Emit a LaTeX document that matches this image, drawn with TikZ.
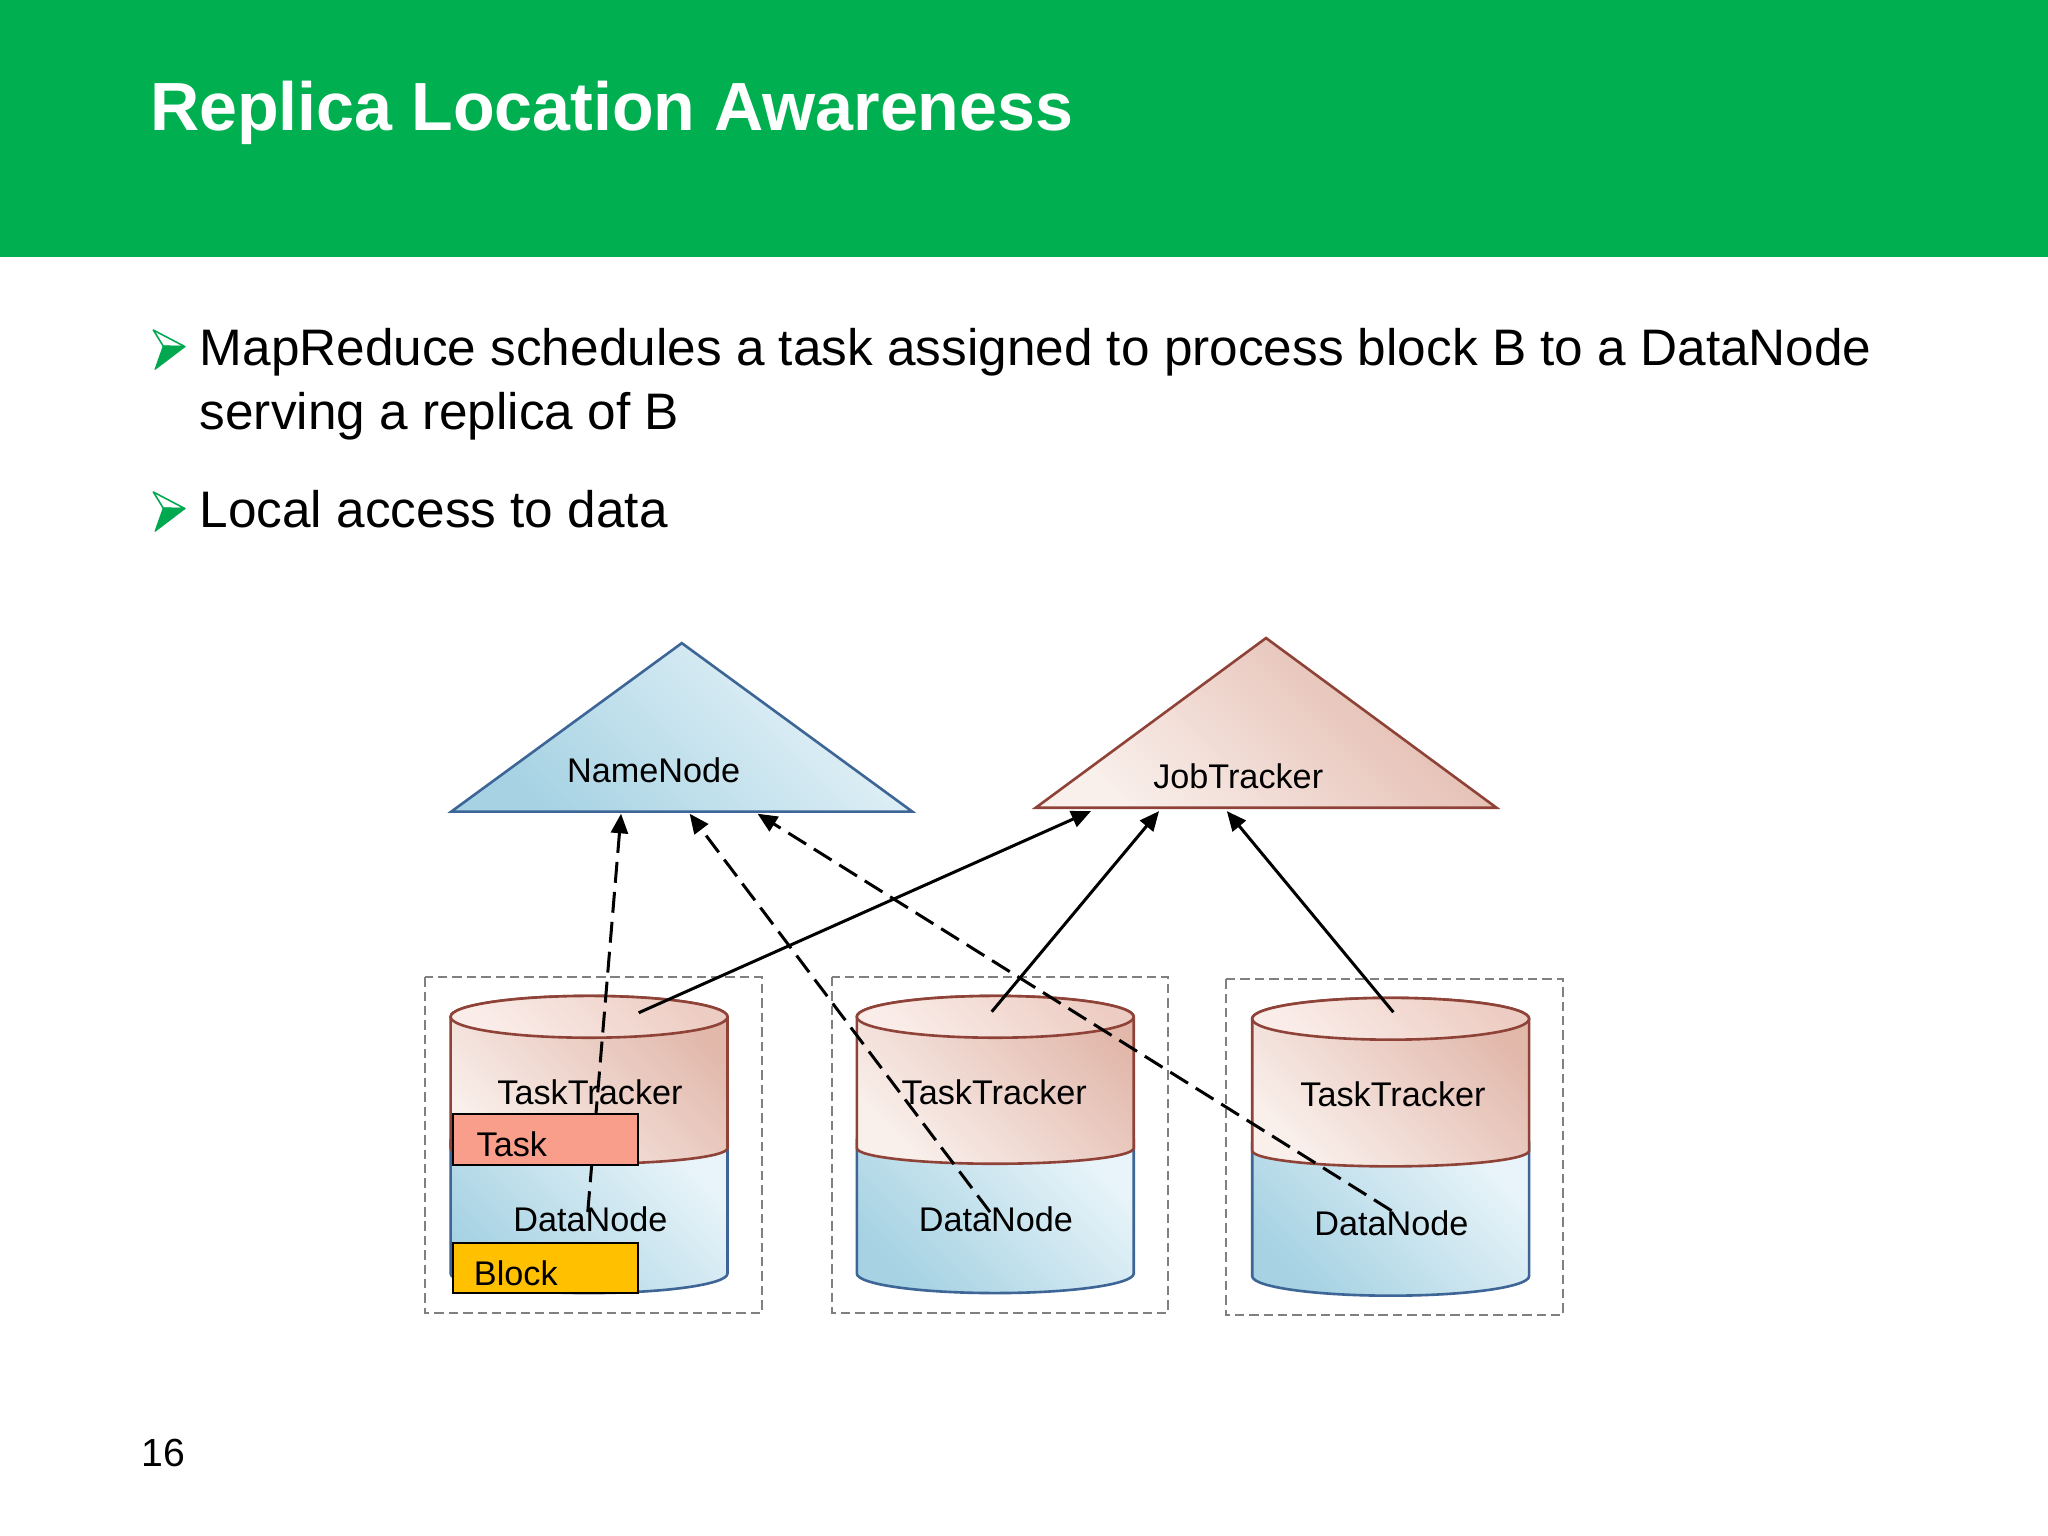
\documentclass[tikz,border=0pt]{standalone}
\usepackage{fontspec}
\setmainfont{Liberation Sans}
\usetikzlibrary{arrows.meta}
\definecolor{hdrgreen}{HTML}{00B050}
\definecolor{bulgreen}{HTML}{00A84F}
\definecolor{nnfillA}{HTML}{A6D2E3}
\definecolor{nnfillB}{HTML}{E8F4F9}
\definecolor{nnline}{HTML}{3D6596}
\definecolor{jtfillA}{HTML}{F9EFEB}
\definecolor{jtfillB}{HTML}{E2B8AB}
\definecolor{jtline}{HTML}{8F4338}
\definecolor{toplight}{HTML}{FAEDE9}
\definecolor{topdark}{HTML}{EDCDC3}
\definecolor{tasko}{HTML}{FA9E8C}
\definecolor{blocky}{HTML}{FFC000}
\definecolor{boxgray}{HTML}{808080}
\tikzset{
  conn/.style={line width=1.15pt, -{Triangle[length=7.5pt,width=6.5pt]}},
  dconn/.style={conn, dash pattern=on 8pt off 3.5pt},
  hostbox/.style={draw=boxgray, line width=0.7pt, dash pattern=on 3.6pt off 1.9pt},
  lbl/.style={inner sep=0, anchor=base, font=\fontsize{13.1pt}{15pt}\selectfont},
  lblw/.style={inner sep=0, anchor=base west, font=\fontsize{13.1pt}{15pt}\selectfont},
  bodytext/.style={inner sep=0, anchor=base west, font=\fontsize{19.65pt}{24pt}\selectfont},
  bluefill/.style={bottom color=nnfillA, top color=nnfillB, shading angle=-45},
  pinkfill/.style={bottom color=jtfillA, top color=jtfillB, shading angle=-45},
  topfill/.style={bottom color=toplight, top color=topdark, shading angle=-45},
  smallrect/.style={draw=black, line width=0.75pt},
}
\newcommand{\drawcyl}[4]{%
  % #1 centre x, #2 top y, #3 boundary y, #4 bottom y
  \path[draw=nnline, line width=1pt, bluefill]
    ({#1-106},{#3-6}) -- ({#1-106},#4)
    arc[start angle=180, end angle=360, x radius=53pt, y radius=7.5pt]
    -- ({#1+106},{#3-6}) -- cycle;
  \path[draw=jtline, line width=1pt, pinkfill]
    ({#1-106},#2) -- ({#1-106},#3)
    arc[start angle=180, end angle=360, x radius=53pt, y radius=6pt]
    -- ({#1+106},#2)
    arc[start angle=0, end angle=180, x radius=53pt, y radius=8pt] -- cycle;
  \path[draw=jtline, line width=1pt, topfill]
    (#1,#2) ellipse [x radius=53pt, y radius=8pt];
}
\newcommand{\bularrow}[1]{%
  \begin{scope}[yshift=#1]
    \path[draw=bulgreen, line width=0.6pt, fill=white, line join=round]
      (117.4,252.7) -- (141.6,265.4) -- (125,265) -- cycle;
    \path[fill=bulgreen, draw=bulgreen, line width=0.4pt, line join=round]
      (125,265) -- (141.6,265.4) -- (118.7,282.8) -- cycle;
  \end{scope}
}
\begin{document}
\begin{tikzpicture}[x=0.5pt, y=-0.5pt]
\useasboundingbox (0,0) rectangle (1568,1176);
\fill[white] (0,0) rectangle (1568,1176);
% header
\fill[hdrgreen] (0,0) rectangle (1568,197);
\node[inner sep=0, anchor=base west, text=white,
      font=\fontsize{26.1pt}{30pt}\selectfont\bfseries] (title) at (114.5,100)
      {Replica Location Awareness};
% bullets
\bularrow{0}
\bularrow{-62pt}
\node[bodytext] (b1a) at (152.5,280.2) {MapReduce schedules a task assigned to process block B to a DataNode};
\node[bodytext] (b1b) at (152.5,328.8) {serving a replica of B};
\node[bodytext] (b2) at (152.5,403.8) {Local access to data};
% page number
\node[inner sep=0, anchor=base west, font=\fontsize{15pt}{18pt}\selectfont] (pagenum) at (108,1122.4) {16};

% host boxes
\draw[hostbox] (325.4,748.2) rectangle (583.2,1005);
\draw[hostbox] (636.8,748) rectangle (894.4,1005);
\draw[hostbox] (938.7,749.7) rectangle (1196.5,1007);

% NameNode and JobTracker triangles
\path[draw=nnline, line width=1pt, bluefill, line join=miter]
  (345.5,621.4) -- (522,492.4) -- (698.5,621.4) -- cycle;
\node[lbl] (namenode) at (500.5,599) {NameNode};
\path[draw=jtline, line width=1pt, pinkfill, line join=miter]
  (793,618.4) -- (969.3,488.5) -- (1145.7,618.4) -- cycle;
\node[lbl] (jobtracker) at (948,603.6) {JobTracker};

% cylinders
\drawcyl{451}{778.5}{879}{975}
\drawcyl{762}{778.5}{879}{975}
\drawcyl{1064.7}{780}{881}{977}

\node[lbl] (tt1) at (451.7,845.3) {TaskTracker};
\node[lbl] (dn1) at (452,943) {DataNode};
\node[lbl] (tt2) at (761.2,845.3) {TaskTracker};
\node[lbl] (dn2) at (762.5,943) {DataNode};
\node[lbl] (tt3) at (1066.5,847.3) {TaskTracker};
\node[lbl] (dn3) at (1065.3,945.6) {DataNode};

% connector end points
\coordinate (nnA) at (475.5,623);
\coordinate (nnB) at (528,623);
\coordinate (nnC) at (580,623);
\coordinate (jtA) at (835.3,621);
\coordinate (jtB) at (887.4,621);
\coordinate (jtC) at (939.3,621);
\coordinate (dnOut1) at (450,928);
\coordinate (dnOut2) at (758,928);
\coordinate (dnOut3) at (1065.5,927);
\coordinate (ttOut1) at (489,775.4);
\coordinate (ttOut2) at (759.3,774.6);
\coordinate (ttOut3) at (1066.8,775);

% heartbeats to JobTracker
\draw[conn] (ttOut1) -- (jtA);
\draw[conn] (ttOut2) -- (jtB);
\draw[conn] (ttOut3) -- (jtC);
% block reports to NameNode
\draw[dconn] (dnOut1) -- (nnA);
\draw[dconn] (dnOut2) -- (nnB);
\draw[dconn] (dnOut3) -- (nnC);

% task and block
\path[smallrect, fill=tasko] (347,853) rectangle (488.5,892);
\node[lblw] (task) at (364.5,885.6) {Task};
\path[smallrect, fill=blocky] (347,951.5) rectangle (488.5,990);
\node[lblw] (block) at (362.5,984) {Block};
\end{tikzpicture}
\end{document}
